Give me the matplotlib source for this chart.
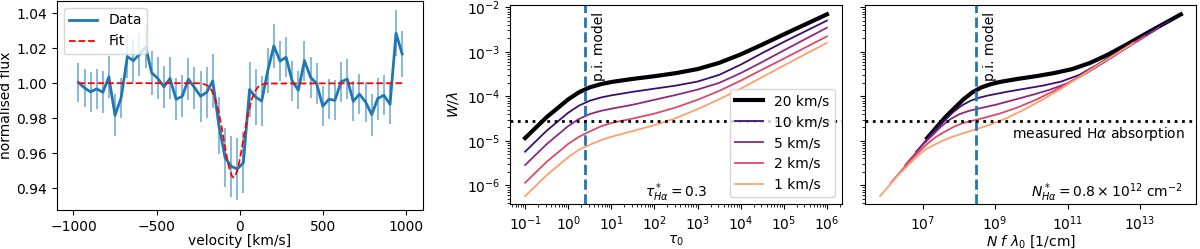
#!/usr/bin/env python3
# -*- coding: utf-8 -*-
"""
Halpha absorption: observed line + fit (left), curve of growth vs tau_0
(middle) and vs N f lambda_0 (right) for a handful of Doppler b values.
"""
import numpy as np
import matplotlib
matplotlib.use("Agg")
import matplotlib.pyplot as plt
from matplotlib.ticker import LogLocator

# ── Left panel: observed profile ──────────────────────────────
velocity = [-970, -933, -897, -860, -823, -787, -750, -713, -676, -640,
            -603, -566, -530, -493, -456, -420, -383, -346, -309, -273,
            -236, -199, -163, -126, -89, -52, -16, 21, 58, 94,
            131, 168, 204, 241, 278, 314, 351, 388, 425, 461,
            498, 535, 571, 608, 645, 681, 718, 755, 792, 828,
            865, 902, 938, 975]
flux = [1.0004, 0.9973, 0.9950, 0.9967, 0.9948, 1.0036, 0.9816, 0.9917, 1.0152, 1.0129,
        1.0165, 1.0209, 1.0060, 1.0027, 0.9979, 1.0027, 0.9908, 0.9925, 1.0023, 0.9975,
        0.9925, 0.9948, 1.0013, 0.9758, 0.9574, 0.9524, 0.9509, 0.9545, 0.9964, 0.9921,
        0.9898, 1.0073, 1.0213, 1.0127, 1.0148, 1.0012, 0.9960, 1.0129, 1.0033, 0.9998,
        0.9868, 0.9908, 0.9902, 1.0008, 1.0023, 0.9896, 0.9937, 0.9893, 0.9820, 0.9912,
        0.9931, 0.9879, 1.0286, 1.0167]
flux_err = [0.011, 0.011, 0.0115, 0.0115, 0.012, 0.012, 0.012, 0.0115, 0.0125, 0.0125,
            0.0125, 0.0125, 0.0125, 0.012, 0.012, 0.012, 0.012, 0.012, 0.012, 0.012,
            0.0145, 0.0145, 0.0155, 0.0165, 0.017, 0.0175, 0.018, 0.0175, 0.016, 0.016,
            0.0145, 0.013, 0.0125, 0.0115, 0.0115, 0.0115, 0.011, 0.0115, 0.0115, 0.0115,
            0.0115, 0.0115, 0.0115, 0.0115, 0.0115, 0.0115, 0.0115, 0.0115, 0.012, 0.012,
            0.0115, 0.0115, 0.013, 0.013]

fit_velocity = [-970, -250, -210, -190, -170, -150, -130, -110, -90, -70, -50, -38,
                -25, -10, 10, 30, 50, 70, 90, 110, 130, 160, 975]
fit_flux = [1.0, 1.0, 0.9993, 0.9983, 0.9960, 0.9916, 0.9847, 0.9750, 0.9639, 0.9536,
            0.9471, 0.9460, 0.9474, 0.9519, 0.9617, 0.9728, 0.9829, 0.9905, 0.9953,
            0.9979, 0.9992, 0.9998, 1.0]

# ── Curves of growth (log10 W/lambda read per b) ──────────────
tau0 = [0.1, 0.316, 1.0, 1.78, 3.16, 5.62, 10, 31.6, 100, 316, 1e3, 3.16e3,
        1e4, 3.16e4, 1e5, 3.16e5, 1e6]
b_kms = [20, 10, 5, 2, 1]
logW = {
    20: [-4.94, -4.47, -4.07, -3.91, -3.80, -3.73, -3.68, -3.61, -3.55, -3.48,
         -3.39, -3.25, -3.06, -2.84, -2.61, -2.385, -2.16],
    10: [-5.245, -4.775, -4.37, -4.21, -4.10, -4.03, -3.98, -3.90, -3.83, -3.76,
         -3.67, -3.52, -3.29, -3.03, -2.78, -2.54, -2.30],
    5:  [-5.546, -5.076, -4.67, -4.51, -4.40, -4.33, -4.28, -4.19, -4.08, -3.97,
         -3.85, -3.70, -3.48, -3.23, -2.97, -2.715, -2.46],
    2:  [-5.944, -5.474, -5.07, -4.91, -4.79, -4.68, -4.60, -4.50, -4.39, -4.25,
         -4.08, -3.88, -3.65, -3.40, -3.155, -2.905, -2.655],
    1:  [-6.245, -5.775, -5.37, -5.20, -5.09, -4.99, -4.91, -4.78, -4.65, -4.49,
         -4.29, -4.07, -3.83, -3.57, -3.31, -3.055, -2.80],
}
tau_pi = 2.43          # p.i. model optical depth
nfl_pi = 2.9e8         # p.i. model N f lambda_0 [1/cm]
W_measured = 2.8e-5    # measured Halpha W/lambda

SQRT_PI_E2_MEC = 0.01497   # sqrt(pi) e^2/(m_e c) [cm^2/s]

colors = {b: plt.cm.magma(c) for b, c in zip(b_kms, [0.0, 0.2, 0.4, 0.6, 0.8])}
widths = {20: 3.0, 10: 1.3, 5: 1.3, 2: 1.3, 1: 1.3}

fig = plt.figure(figsize=(12, 2.49), dpi=100)
ax1 = fig.add_axes([0.0473, 0.157, 0.3052, 0.839])
ax2 = fig.add_axes([0.425, 0.179, 0.2767, 0.801])
ax3 = fig.add_axes([0.7208, 0.179, 0.2758, 0.801], sharey=ax2)

# ── Left ──
ax1.errorbar(velocity, flux, yerr=flux_err, ls="none", color="C0", alpha=0.5,
             elinewidth=1.5)
ax1.plot(velocity, flux, color="C0", lw=2, label="Data")
ax1.plot(fit_velocity, fit_flux, "r--", lw=1.3, label="Fit")
ax1.set_xlim(-1100, 1100)
ax1.set_xlabel("velocity [km/s]", labelpad=0.5)
ax1.set_ylabel("normalised flux", labelpad=2)
ax1.legend(loc="upper left")

# ── Middle: W/lambda vs tau_0 ──
for b in b_kms:
    ax2.plot(tau0, 10 ** np.array(logW[b]), color=colors[b], lw=widths[b],
             label=f"{b} km/s")
ax2.set_xscale("log")
ax2.set_yscale("log")
ax2.set_ylim(10 ** -6.43, 10 ** -1.95)
ax2.xaxis.set_major_locator(LogLocator(base=10, numticks=12))
ax2.xaxis.set_minor_locator(LogLocator(base=10, subs=np.arange(2, 10), numticks=12))
ax2.axvline(tau_pi, color="C0", ls="--", lw=2)
ax2.axhline(W_measured, color="k", ls=":", lw=2)
ax2.annotate("p.i. model", xy=(tau_pi, 1), xycoords=("data", "axes fraction"),
             xytext=(5, -5), textcoords="offset points", rotation=90,
             ha="left", va="top")
ax2.text(0.5, 0.06, r"$\tau^*_{H\alpha} = 0.3$", transform=ax2.transAxes,
         ha="center", va="center")
ax2.set_xlabel(r"$\tau_0$", labelpad=0.5)
ax2.set_ylabel(r"$W/\lambda$")
ax2.legend(loc="lower right")

# ── Right: W/lambda vs N f lambda_0 ──
for b in b_kms:
    nfl = np.array(tau0) * b * 1e5 / SQRT_PI_E2_MEC
    ax3.plot(nfl, 10 ** np.array(logW[b]), color=colors[b], lw=widths[b])
ax3.set_xscale("log")
ax3.axvline(nfl_pi, color="C0", ls="--", lw=2)
ax3.axhline(W_measured, color="k", ls=":", lw=2)
ax3.annotate("p.i. model", xy=(nfl_pi, 1), xycoords=("data", "axes fraction"),
             xytext=(5, -5), textcoords="offset points", rotation=90,
             ha="left", va="top")
ax3.annotate(r"measured H$\alpha$ absorption", xy=(1, W_measured),
             xycoords=("axes fraction", "data"), xytext=(-8, -3),
             textcoords="offset points", ha="right", va="top")
ax3.text(0.96, 0.06, r"$N^*_{H\alpha} = 0.8 \times 10^{12}$ cm$^{-2}$",
         transform=ax3.transAxes, ha="right", va="center")
ax3.set_xlabel(r"$N\ f\ \lambda_0$ [1/cm]", labelpad=0.5)
ax3.tick_params(labelleft=False)

fig.savefig("out.png", dpi=100)
